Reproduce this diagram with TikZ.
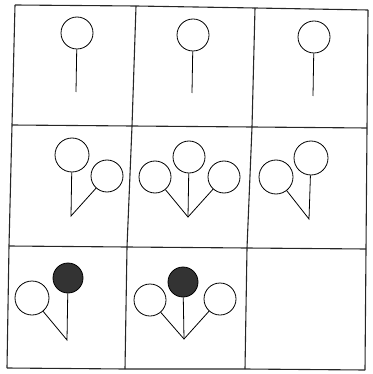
\documentclass[tikz,border=0pt]{standalone}
\usepackage{tikz}
\usetikzlibrary{positioning}

\begin{document}
\begin{tikzpicture}[
  x=1pt, y=-1pt,
  line width=0.8pt,
  gridline/.style={line width=1.1pt, black!85},
  bulb/.style={circle, draw, minimum size=32pt, inner sep=0pt},
  darkbulb/.style={bulb, fill=black!80, minimum size=30pt},
  stem/.style={line width=0.8pt}
]
\useasboundingbox (0,0) rectangle (372,374);

%% ── Grid corners ─────────────────────────────────────────────────────
\coordinate (g00) at (15,5);   \coordinate (g01) at (136,6);
\coordinate (g02) at (255,8);  \coordinate (g03) at (368,10);
\coordinate (g10) at (12,125); \coordinate (g11) at (132,126);
\coordinate (g12) at (252,127);\coordinate (g13) at (367,128);
\coordinate (g20) at (9,246);  \coordinate (g21) at (127,247);
\coordinate (g22) at (247,248);\coordinate (g23) at (366,249);
\coordinate (g30) at (7,368);  \coordinate (g31) at (125,369);
\coordinate (g32) at (245,369);\coordinate (g33) at (365,370);

%% ── Grid lines ───────────────────────────────────────────────────────
\foreach \r in {0,1,2,3}
  \draw[gridline] (g\r0) -- (g\r1) -- (g\r2) -- (g\r3);
\foreach \c in {0,1,2,3}
  \draw[gridline] (g0\c) -- (g1\c) -- (g2\c) -- (g3\c);

%% ── Row 1: single circles ────────────────────────────────────────────
\node[bulb] (a1) at (77,33) {};
\coordinate (va1) at (76,92);
\draw[stem] (a1) -- (va1);

\node[bulb] (a2) at (193,35) {};
\coordinate (va2) at (192,93);
\draw[stem] (a2) -- (va2);

\node[bulb] (a3) at (314,37) {};
\coordinate (va3) at (313,96);
\draw[stem] (a3) -- (va3);

%% ── Row 2: pairs and triple ──────────────────────────────────────────
\node[bulb, minimum size=34pt] (b1) at (72,155) {};
\node[bulb] (b1r) at (107,176) {};
\coordinate (vb1) at (71,216);
\draw[stem] (b1) -- (vb1) -- (b1r);

\node[bulb] (b2) at (189,157) {};
\node[bulb] (b2l) at (155,177) {};
\node[bulb] (b2r) at (224,177) {};
\coordinate (vb2) at (188,217);
\draw[stem] (b2) -- (vb2);
\draw[stem] (b2l) -- (vb2) -- (b2r);

\node[bulb, minimum size=34pt] (b3) at (311,158) {};
\node[bulb, minimum size=34pt] (b3l) at (276,177) {};
\coordinate (vb3) at (309,219);
\draw[stem] (b3) -- (vb3) -- (b3l);

%% ── Row 3: dark circles ──────────────────────────────────────────────
\node[darkbulb] (c1) at (68,278) {};
\node[bulb, minimum size=34pt] (c1l) at (32,298) {};
\coordinate (vc1) at (67,340);
\draw[stem] (c1) -- (vc1) -- (c1l);

\node[darkbulb] (c2) at (183,282) {};
\node[bulb] (c2l) at (150,300) {};
\node[bulb] (c2r) at (220,299) {};
\coordinate (vc2) at (184,339);
\draw[stem] (c2) -- (vc2);
\draw[stem] (c2l) -- (vc2) -- (c2r);

\end{tikzpicture}
\end{document}
